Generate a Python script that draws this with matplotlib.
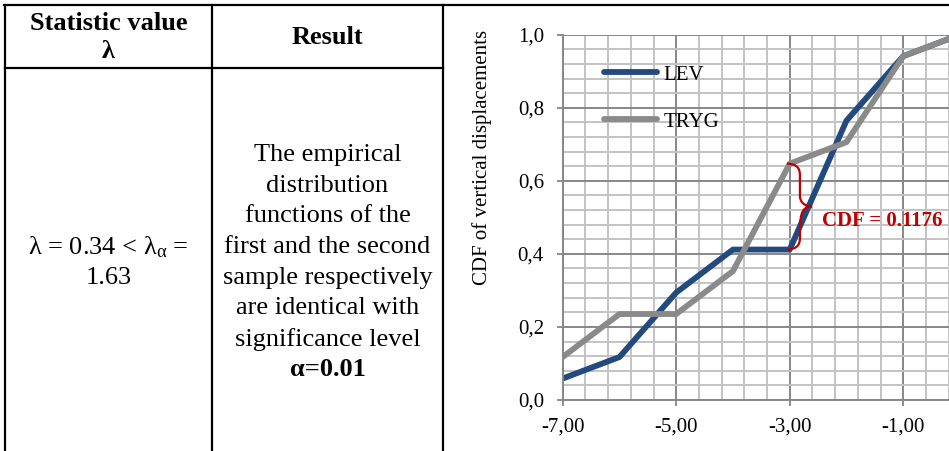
import matplotlib
matplotlib.use("Agg")
import matplotlib.pyplot as plt
import numpy as np
from matplotlib.path import Path
from matplotlib.patches import PathPatch
from matplotlib.ticker import FixedLocator, FuncFormatter

plt.rcParams['font.family'] = ['Liberation Serif', 'DejaVu Serif']
plt.rcParams['mathtext.fontset'] = 'custom'
plt.rcParams['mathtext.rm'] = 'Liberation Serif'
plt.rcParams['mathtext.it'] = 'Liberation Serif:italic'
plt.rcParams['mathtext.bf'] = 'Liberation Serif:bold'

# ---- data ----
x_vals = [-7, -6, -5, -4, -3, -2, -1, 0]
lev = [0.0588, 0.1176, 0.2941, 0.4118, 0.4118, 0.7647, 0.9412, 1.0]
tryg = [0.1176, 0.2353, 0.2353, 0.3529, 0.6471, 0.7059, 0.9412, 1.0]
series_names = ["LEV", "TRYG"]
x_tick_vals = [-7, -5, -3, -1]
y_tick_vals = [0.0, 0.2, 0.4, 0.6, 0.8, 1.0]
brace_x = -3
annot_text = "CDF = 0.1176"

header_left = ["Statistic value", "λ"]
header_right = "Result"
stat_lines = [r"λ = 0.34 < λ$_{\mathrm{α}}$ =", "1.63"]
result_lines = ["The empirical", "distribution", "functions of the",
                "first and the second", "sample respectively",
                "are identical with", "significance level"]
result_bold = "α=0.01"

W, H = 949, 451
fig = plt.figure(figsize=(W / 100, H / 100), dpi=100)

def fx(px):
    return px / W

def fy(py):
    return 1 - py / H

# ---- table ----
tbl_lw = 1.6
fig.add_artist(plt.Line2D([fx(4), fx(949)], [fy(5), fy(5)], color='black', lw=tbl_lw))
fig.add_artist(plt.Line2D([fx(5), fx(5)], [fy(5), fy(451)], color='black', lw=tbl_lw))
fig.add_artist(plt.Line2D([fx(212), fx(212)], [fy(5), fy(451)], color='black', lw=tbl_lw))
fig.add_artist(plt.Line2D([fx(443), fx(443)], [fy(5), fy(451)], color='black', lw=tbl_lw))
fig.add_artist(plt.Line2D([fx(5), fx(443)], [fy(68), fy(68)], color='black', lw=tbl_lw))

fs_tbl = 19
fig.text(fx(108.5), fy(23), header_left[0], ha='center', va='center', fontsize=fs_tbl,
         fontweight='bold')
fig.text(fx(108.5), fy(52), header_left[1], ha='center', va='center', fontsize=fs_tbl,
         fontweight='bold')
fig.text(fx(327.5), fy(37.5), header_right, ha='center', va='center', fontsize=fs_tbl,
         fontweight='bold')

line_h = 30.7
for i, t in enumerate(stat_lines):
    fig.text(fx(108.5), fy(247 + i * line_h), t, ha='center', va='center', fontsize=fs_tbl)
for i, t in enumerate(result_lines):
    fig.text(fx(327.5), fy(155 + i * line_h), t, ha='center', va='center', fontsize=fs_tbl)
fig.text(fx(327.5), fy(155 + len(result_lines) * line_h), result_bold, ha='center',
         va='center', fontsize=fs_tbl, fontweight='bold')

# ---- chart ----
ax_left, ax_top, ax_bottom = 562.7, 34.7, 400.0
ax = fig.add_axes([fx(ax_left), fy(ax_bottom), 1 - fx(ax_left), (ax_bottom - ax_top) / H])
px_per_unit = 56.75
ax.set_xlim(-7, -7 + (W - ax_left) / px_per_unit)
ax.set_ylim(0, 1)

grid_major = '#878787'
grid_minor = '#c3c3c3'
ax.xaxis.set_major_locator(FixedLocator(x_tick_vals))
ax.xaxis.set_minor_locator(FixedLocator(np.arange(-7, 0.01, 0.4)))
ax.yaxis.set_major_locator(FixedLocator(y_tick_vals))
ax.yaxis.set_minor_locator(FixedLocator(np.arange(0, 1.001, 0.04)))
ax.xaxis.set_major_formatter(FuncFormatter(lambda v, p: f"{v:.2f}".replace('.', ',')))
ax.yaxis.set_major_formatter(FuncFormatter(lambda v, p: f"{v:.1f}".replace('.', ',')))
ax.grid(which='minor', color=grid_minor, lw=1.4)
ax.grid(which='major', color=grid_major, lw=1.4)
ax.set_axisbelow(True)
ax.tick_params(which='major', direction='out', length=4.5, width=1.3, color=grid_major,
               labelsize=15)
ax.tick_params(axis='y', which='major', pad=9)
ax.tick_params(axis='x', which='major', pad=8)
ax.tick_params(which='minor', length=0)
for s in ['top', 'right']:
    ax.spines[s].set_visible(False)
for s in ['left', 'bottom']:
    ax.spines[s].set_color(grid_major)
    ax.spines[s].set_linewidth(1.4)

ax.plot(x_vals, lev, color='#234a7e', lw=4.2, solid_joinstyle='round',
        solid_capstyle='round', label=series_names[0], clip_on=True)
ax.plot(x_vals, tryg, color='#8a8a8a', lw=4.2, solid_joinstyle='round',
        solid_capstyle='round', label=series_names[1], clip_on=True)

leg = ax.legend(loc='upper left', bbox_to_anchor=(0.085, 0.94), frameon=False,
                fontsize=15, handlelength=2.55, handletextpad=0.3, labelspacing=1.32,
                borderaxespad=0)

# brace between the two curves at x = -3
top_v = tryg[x_vals.index(brace_x)]
bot_v = lev[x_vals.index(brace_x)]
mid_v = (top_v + bot_v) / 2
x0 = brace_x - 0.05
xs = brace_x + 0.18
xt = brace_x + 0.39
r = 0.03
verts = [(x0, top_v), (xs, top_v), (xs, top_v - r),
         (xs, mid_v + r),
         (xs, mid_v), (xt, mid_v), (xt, mid_v),
         (xs, mid_v), (xs, mid_v - r),
         (xs, bot_v + r),
         (xs, bot_v), (x0, bot_v)]
codes = [Path.MOVETO, Path.CURVE3, Path.CURVE3,
         Path.LINETO,
         Path.CURVE4, Path.CURVE4, Path.CURVE4,
         Path.CURVE4, Path.CURVE4, Path.CURVE4,
         Path.CURVE3, Path.CURVE3]
ax.add_patch(PathPatch(Path(verts, codes), fill=False, edgecolor='#c00000', lw=1.6, zorder=5))
ax.text(-2.436, 0.491, annot_text, color='#c00000', fontsize=15, fontweight='bold',
        ha='left', va='center', zorder=6)

fig.text(fx(482), fy(157.5), "CDF of vertical displacements", rotation=90, ha='center',
         va='center', fontsize=15)

fig.savefig("out.png", dpi=100)
